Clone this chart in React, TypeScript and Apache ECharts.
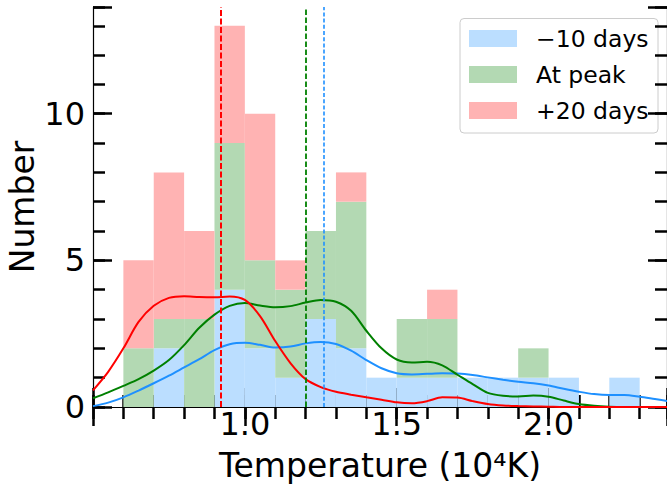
import React, { useEffect, useRef } from "react";
import * as echarts from "echarts";

// ---- data ----
const binStarts = [0.6, 0.7, 0.8, 0.9, 1.0, 1.1, 1.2, 1.3, 1.4, 1.5, 1.6, 1.7, 1.8, 1.9, 2.0, 2.1, 2.2];
const binWidth = 0.1;
const blueCounts = [0, 2, 0, 4, 2, 1, 3, 2, 1, 1, 1, 1, 1, 1, 1, 0, 1];
const greenCounts = [2, 1, 3, 5, 3, 3, 3, 5, 0, 2, 2, 0, 0, 1, 0, 0, 0];
const redCounts = [3, 5, 3, 4, 5, 1, 0, 1, 0, 0, 1, 0, 0, 0, 0, 0, 0];

const kdeX = [0.5, 0.55, 0.6, 0.65, 0.7, 0.75, 0.8, 0.85, 0.9, 0.95, 1.0, 1.05, 1.1, 1.15, 1.2, 1.25, 1.3, 1.35, 1.4, 1.45, 1.5, 1.55, 1.6, 1.65, 1.7, 1.75, 1.8, 1.85, 1.9, 1.95, 2.0, 2.05, 2.1, 2.15, 2.2, 2.25, 2.3, 2.35, 2.4];
const kdeBlue = [0.03, 0.15, 0.33, 0.56, 0.81, 1.07, 1.35, 1.63, 1.94, 2.14, 2.19, 2.12, 2.03, 2.06, 2.17, 2.22, 2.15, 1.92, 1.6, 1.32, 1.15, 1.11, 1.13, 1.15, 1.14, 1.09, 1.01, 0.93, 0.86, 0.81, 0.73, 0.62, 0.52, 0.44, 0.41, 0.41, 0.35, 0.27, 0.19];
const kdeGreen = [0.3, 0.5, 0.72, 0.95, 1.24, 1.6, 2.11, 2.7, 3.15, 3.45, 3.55, 3.46, 3.4, 3.44, 3.56, 3.65, 3.59, 3.28, 2.6, 2.0, 1.62, 1.52, 1.54, 1.42, 1.1, 0.78, 0.48, 0.38, 0.36, 0.39, 0.35, 0.22, 0.1, 0.04, 0.01, 0, 0, 0, 0];
const kdeRed = [0.57, 1.2, 2.0, 2.9, 3.45, 3.72, 3.78, 3.75, 3.74, 3.77, 3.65, 3.1, 2.25, 1.5, 0.95, 0.68, 0.52, 0.42, 0.33, 0.25, 0.16, 0.13, 0.2, 0.33, 0.32, 0.2, 0.1, 0.05, 0.03, 0.02, 0.01, 0, 0, 0, 0, 0, 0, 0, 0];

const medianBlue = 1.262;
const medianGreen = 1.2;
const medianRed = 0.923;

const legendNames = ["\u221210 days", "At peak", "+20 days"];
const xTickLabels = ["1.0", "1.5", "2.0"];
const yTickLabels = ["0", "5", "10"];

const X_MIN = 0.5;
const X_MAX = 2.39;
const Y_MAX = 13.64;

const FONT = "DejaVu Sans";
const C_BLUE = "#1e90ff";
const C_GREEN = "#008000";
const C_RED = "#ff0000";
const F_BLUE = "#bbdeff";
const F_GREEN = "#b3d9b3";
const F_RED = "#ffb3b3";

function stackedBars(counts: number[], below: number[][]) {
  return binStarts
    .map((s, i) => {
      let base = 0;
      below.forEach((b) => (base += b[i]));
      return [s, s + binWidth, base, base + counts[i]];
    })
    .filter((d) => d[3] > d[2]);
}

function barSeries(name: string, counts: number[], below: number[][], color: string) {
  return {
    name,
    type: "custom",
    xAxisIndex: 0,
    yAxisIndex: 0,
    z: 1,
    silent: true,
    encode: { x: [0, 1], y: [2, 3] },
    data: stackedBars(counts, below),
    renderItem: (params: any, api: any) => {
      const a = api.coord([api.value(0), api.value(3)]);
      const b = api.coord([api.value(1), api.value(2)]);
      return {
        type: "rect",
        shape: { x: a[0], y: a[1], width: b[0] - a[0], height: b[1] - a[1] },
        style: { fill: color },
      };
    },
  };
}

function kdeSeries(name: string, ys: number[], color: string) {
  return {
    name,
    type: "line",
    xAxisIndex: 0,
    yAxisIndex: 0,
    z: 4,
    smooth: 0.3,
    symbol: "none",
    silent: true,
    data: kdeX.map((x, i) => [x, ys[i]]),
    lineStyle: { color, width: 2 },
  };
}

function medianSeries(name: string, v: number, color: string, width: number, dash: number[]) {
  return {
    name,
    type: "line",
    xAxisIndex: 0,
    yAxisIndex: 0,
    z: 3,
    data: [],
    silent: true,
    markLine: {
      silent: true,
      symbol: ["none", "none"],
      label: { show: false },
      lineStyle: { color, width, type: dash },
      data: [{ xAxis: v }],
    },
  };
}

const near = (a: number, b: number) => Math.abs(a - b) < 1e-6;

export default function App() {
  const ref = useRef<HTMLDivElement>(null);
  useEffect(() => {
    if (!ref.current) return;
    const chart = echarts.init(ref.current, null, { renderer: "svg" });
    const tickLine = { lineStyle: { color: "#000", width: 2.5 } };
    const spine = { show: true, lineStyle: { color: "#000", width: 1.2 } };
    const xBase = { type: "value", min: X_MIN, max: X_MAX, splitLine: { show: false } };
    const yBase = { type: "value", min: 0, max: Y_MAX, splitLine: { show: false } };
    const gridPos = { left: 93, right: 0, top: 7, bottom: 78, containLabel: false, outerBoundsMode: "none" };
    const option: any = {
      animation: false,
      grid: [gridPos, gridPos],
      xAxis: [
        {
          ...xBase,
          gridIndex: 0,
          position: "bottom",
          interval: 0.1,
          axisLine: spine,
          axisTick: { inside: true, length: 12, ...tickLine },
          axisLabel: {
            fontFamily: FONT,
            fontSize: 32,
            color: "#000",
            margin: 1,
            formatter: (v: number) => {
              const t = xTickLabels.find((s) => near(parseFloat(s), v));
              return t || "";
            },
          },
          name: "Temperature (10\u2074K)",
          nameLocation: "middle",
          nameGap: 42,
          nameMoveOverlap: false,
          nameTextStyle: { fontFamily: FONT, fontSize: 33, color: "#000" },
        },
        {
          ...xBase,
          gridIndex: 0,
          position: "top",
          interval: 0.1,
          axisLine: spine,
          axisTick: { inside: true, length: 12, ...tickLine },
          axisLabel: { show: false },
        },
        {
          ...xBase,
          gridIndex: 1,
          position: "bottom",
          interval: 0.5,
          axisLine: { show: false },
          axisTick: { inside: true, length: 19, ...tickLine },
          axisLabel: { show: false },
        },
        {
          ...xBase,
          gridIndex: 1,
          position: "top",
          interval: 0.5,
          axisLine: { show: false },
          axisTick: { inside: true, length: 19, ...tickLine },
          axisLabel: { show: false },
        },
      ],
      yAxis: [
        {
          ...yBase,
          gridIndex: 0,
          position: "left",
          interval: 1,
          axisLine: spine,
          axisTick: { inside: true, length: 12, ...tickLine },
          axisLabel: {
            fontFamily: FONT,
            fontSize: 32,
            color: "#000",
            margin: 8,
            formatter: (v: number) => {
              const t = yTickLabels.find((s) => near(parseFloat(s), v));
              return t || "";
            },
          },
          name: "Number",
          nameLocation: "middle",
          nameGap: 54,
          nameMoveOverlap: false,
          nameTextStyle: { fontFamily: FONT, fontSize: 33, color: "#000" },
        },
        {
          ...yBase,
          gridIndex: 0,
          position: "right",
          interval: 1,
          axisLine: spine,
          axisTick: { inside: true, length: 12, ...tickLine },
          axisLabel: { show: false },
        },
        {
          ...yBase,
          gridIndex: 1,
          position: "left",
          interval: 5,
          axisLine: { show: false },
          axisTick: { inside: true, length: 19, ...tickLine },
          axisLabel: { show: false },
        },
        {
          ...yBase,
          gridIndex: 1,
          position: "right",
          interval: 5,
          axisLine: { show: false },
          axisTick: { inside: true, length: 19, ...tickLine },
          axisLabel: { show: false },
        },
      ],
      series: [
        barSeries(legendNames[0], blueCounts, [], F_BLUE),
        barSeries(legendNames[1], greenCounts, [blueCounts], F_GREEN),
        barSeries(legendNames[2], redCounts, [blueCounts, greenCounts], F_RED),
        medianSeries("median red", medianRed, C_RED, 2, [6, 2.5]),
        medianSeries("median green", medianGreen, C_GREEN, 1.8, [5.5, 2.5]),
        medianSeries("median blue", medianBlue, C_BLUE, 1.6, [4, 2.2]),
        kdeSeries("kde blue", kdeBlue, C_BLUE),
        kdeSeries("kde green", kdeGreen, C_GREEN),
        kdeSeries("kde red", kdeRed, C_RED),
        {
          name: "frame",
          type: "line",
          xAxisIndex: 2,
          yAxisIndex: 2,
          data: [],
          silent: true,
        },
      ],
      graphic: [
        {
          type: "group",
          z: 100,
          children: [
            {
              type: "rect",
              shape: { x: 460, y: 18.5, width: 198, height: 114.5, r: 4 },
              style: { fill: "rgba(255,255,255,0.8)", stroke: "#cccccc", lineWidth: 1 },
            },
            ...[F_BLUE, F_GREEN, F_RED].map((c, i) => ({
              type: "rect",
              shape: { x: 469, y: 30 + i * 36, width: 48, height: 17 },
              style: { fill: c },
            })),
            ...legendNames.map((n, i) => ({
              type: "text",
              x: 536,
              y: 38.5 + i * 36,
              style: {
                text: n,
                fontFamily: FONT,
                fontSize: 23.5,
                fill: "#000",
                verticalAlign: "middle",
                align: "left",
              },
            })),
          ],
        },
      ],
    };
    chart.setOption(option);
    return () => chart.dispose();
  }, []);
  return (
    <div
      ref={ref}
      style={{ position: "fixed", left: 0, top: 0, width: 667, height: 485, background: "#fff" }}
    />
  );
}
